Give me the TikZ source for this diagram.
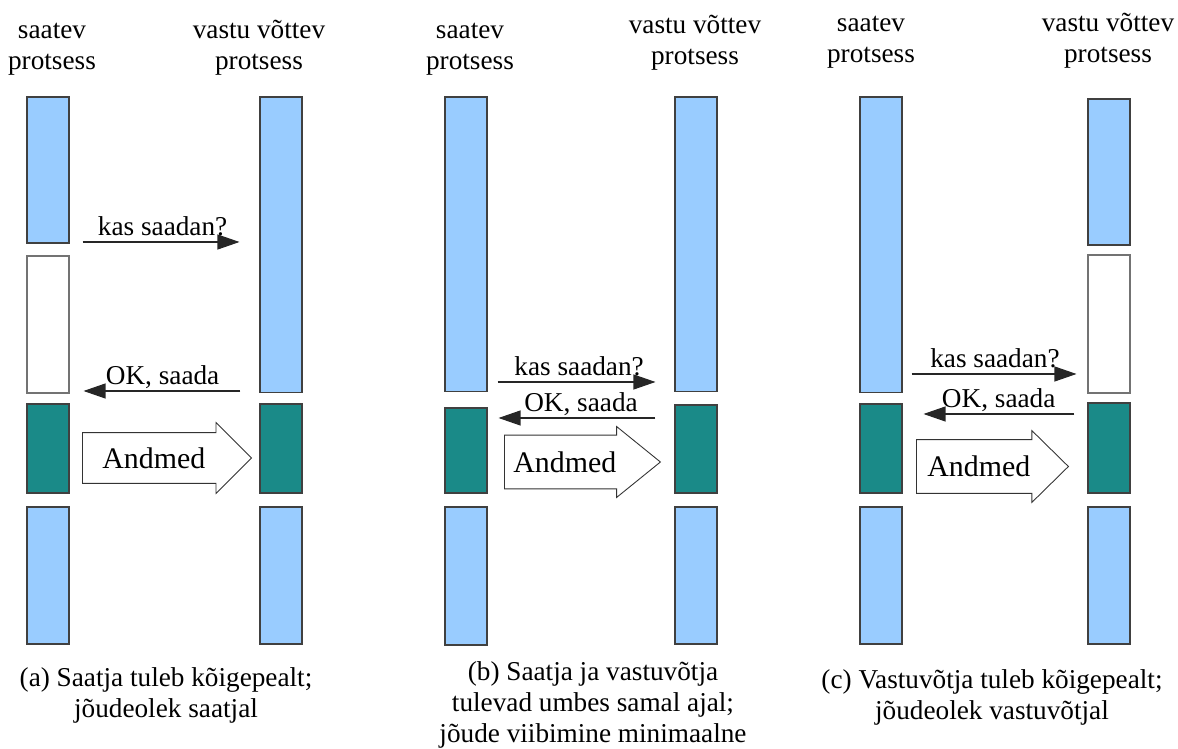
\documentclass[tikz,border=0pt]{standalone}
\usepackage{fontspec}
\setmainfont{Liberation Serif}
\usepackage{tikz}
\usetikzlibrary{positioning,arrows.meta,shapes.arrows}
\definecolor{busyblue}{HTML}{99CCFF}
\definecolor{xferteal}{HTML}{1A8A88}
\newcommand\lblfont{\fontsize{15.5}{17.8}\selectfont}
\newcommand\bigfont{\fontsize{17}{20}\selectfont}
\tikzset{
  lane/.style={draw=black!75, line width=0.6pt, minimum width=0.84cm,
    inner sep=0pt},
  busy/.style={lane, fill=busyblue},
  idle/.style={lane, fill=white, draw=black!55},
  xfer/.style={lane, fill=xferteal},
  msg/.style={-{Triangle[length=0.44cm, width=0.3cm]}, draw=black!85,
    line width=0.6pt},
  msglab/.style={font=\lblfont, inner sep=0pt, anchor=base, yshift=0.13cm},
  datarrow/.style={single arrow, draw=black!80, line width=0.5pt, fill=white,
    minimum width=0cm, single arrow head extend=0.2cm, anchor=tail,
    single arrow tip angle=90, inner xsep=0pt, inner ysep=0.5cm},
  bigtxt/.style={font=\bigfont, inner sep=0pt, anchor=west},
  head/.style={font=\lblfont, align=center, inner sep=0pt, anchor=base},
  capt/.style={font=\lblfont, align=center, inner sep=0pt, anchor=base}}
\begin{document}
\begin{tikzpicture}[x=0.02cm, y=-0.02cm]
    \useasboundingbox (0,0) rectangle (1178,749);
    % (a) sender first
    \node[head] (aHs) at (52,70) {saatev\\protsess};
    \node[head] (aHr) at (259,70) {vastu võttev\\protsess};
    \node[busy, minimum height=2.92cm] (aS1) at (48,170) {};
    \node[idle, minimum height=2.74cm] (aS2) at (48,324.5) {};
    \node[xfer, minimum height=1.78cm] (aS3) at (48,448.5) {};
    \node[busy, minimum height=2.74cm] (aS4) at (48,575.5) {};
    \node[busy, minimum height=5.92cm] (aR1) at (281,245) {};
    \node[xfer, minimum height=1.78cm] (aR2) at (281,448.5) {};
    \node[busy, minimum height=2.74cm] (aR3) at (281,575.5) {};
    \draw[msg, shorten <=0.26cm, shorten >=0.4cm] (aS1.east |- 0,242) -- (aR1.west |- 0,242)
      node[msglab, pos=0.49] {kas saadan?};
    \draw[msg, shorten <=0.38cm, shorten >=0.28cm] (aR1.west |- 0,391) -- (aS2.east |- 0,391)
      node[msglab, pos=0.51] {OK, saada};
    \node[datarrow, minimum height=3.38cm] (aD) at (82,458) {};
    \node[bigtxt, right=0.4cm of aD.tail] (aDt) {Andmed};
    \node[capt] (aCap) at (166,718) {(a) Saatja tuleb kõigepealt;\\jõudeolek saatjal};
    % (b) both at about the same time
    \node[head] (bHs) at (470,70) {saatev\\protsess};
    \node[head] (bHr) at (695,65) {vastu võttev\\protsess};
    \node[busy, minimum height=5.90cm] (bS1) at (466,244.5) {};
    \node[xfer, minimum height=1.70cm] (bS2) at (466,450.5) {};
    \node[busy, minimum height=2.76cm] (bS3) at (466,576) {};
    \node[busy, minimum height=5.90cm] (bR1) at (696,244.5) {};
    \node[xfer, minimum height=1.76cm] (bR2) at (696,449) {};
    \node[busy, minimum height=2.74cm] (bR3) at (696,575.5) {};
    \draw[msg, shorten <=0.2cm, shorten >=0.38cm] (bS1.east |- 0,382) -- (bR1.west |- 0,382)
      node[msglab, pos=0.49] {kas saadan?};
    \draw[msg, shorten <=0.38cm, shorten >=0.22cm] (bR2.west |- 0,418) -- (bS2.east |- 0,418)
      node[msglab, pos=0.5] {OK, saada};
    \node[datarrow, minimum height=3.12cm, inner ysep=0.53cm, single arrow head extend=0.17cm,
      single arrow tip angle=78] (bD) at (504,462) {};
    \node[bigtxt, right=0.18cm of bD.tail] (bDt) {Andmed};
    \node[capt] (bCap) at (593,743) {(b) Saatja ja vastuvõtja\\tulevad umbes samal ajal;\\jõude viibimine minimaalne};
    % (c) receiver first
    \node[head] (cHs) at (871,63) {saatev\\protsess};
    \node[head] (cHr) at (1108,63) {vastu võttev\\protsess};
    \node[busy, minimum height=5.92cm] (cS1) at (881,245) {};
    \node[xfer, minimum height=1.78cm] (cS2) at (881,448.5) {};
    \node[busy, minimum height=2.74cm] (cS3) at (881,575.5) {};
    \node[busy, minimum height=2.92cm] (cR1) at (1109,172) {};
    \node[idle, minimum height=2.76cm] (cR2) at (1109,324) {};
    \node[xfer, minimum height=1.80cm] (cR3) at (1109,448) {};
    \node[busy, minimum height=2.74cm] (cR4) at (1109,575.5) {};
    \draw[msg, shorten <=0.18cm, shorten >=0.22cm] (cS1.east |- 0,374) -- (cR2.west |- 0,374)
      node[msglab, pos=0.5] {kas saadan?};
    \draw[msg, shorten <=0.26cm, shorten >=0.42cm] (cR3.west |- 0,414) -- (cS2.east |- 0,414)
      node[msglab, pos=0.48] {OK, saada};
    \node[datarrow, minimum height=3.04cm, inner ysep=0.53cm, single arrow head extend=0.18cm,
      single arrow tip angle=89] (cD) at (916,466.5) {};
    \node[bigtxt, right=0.22cm of cD.tail] (cDt) {Andmed};
    \node[capt] (cCap) at (992,720) {(c) Vastuvõtja tuleb kõigepealt;\\jõudeolek vastuvõtjal};
\end{tikzpicture}
\end{document}
